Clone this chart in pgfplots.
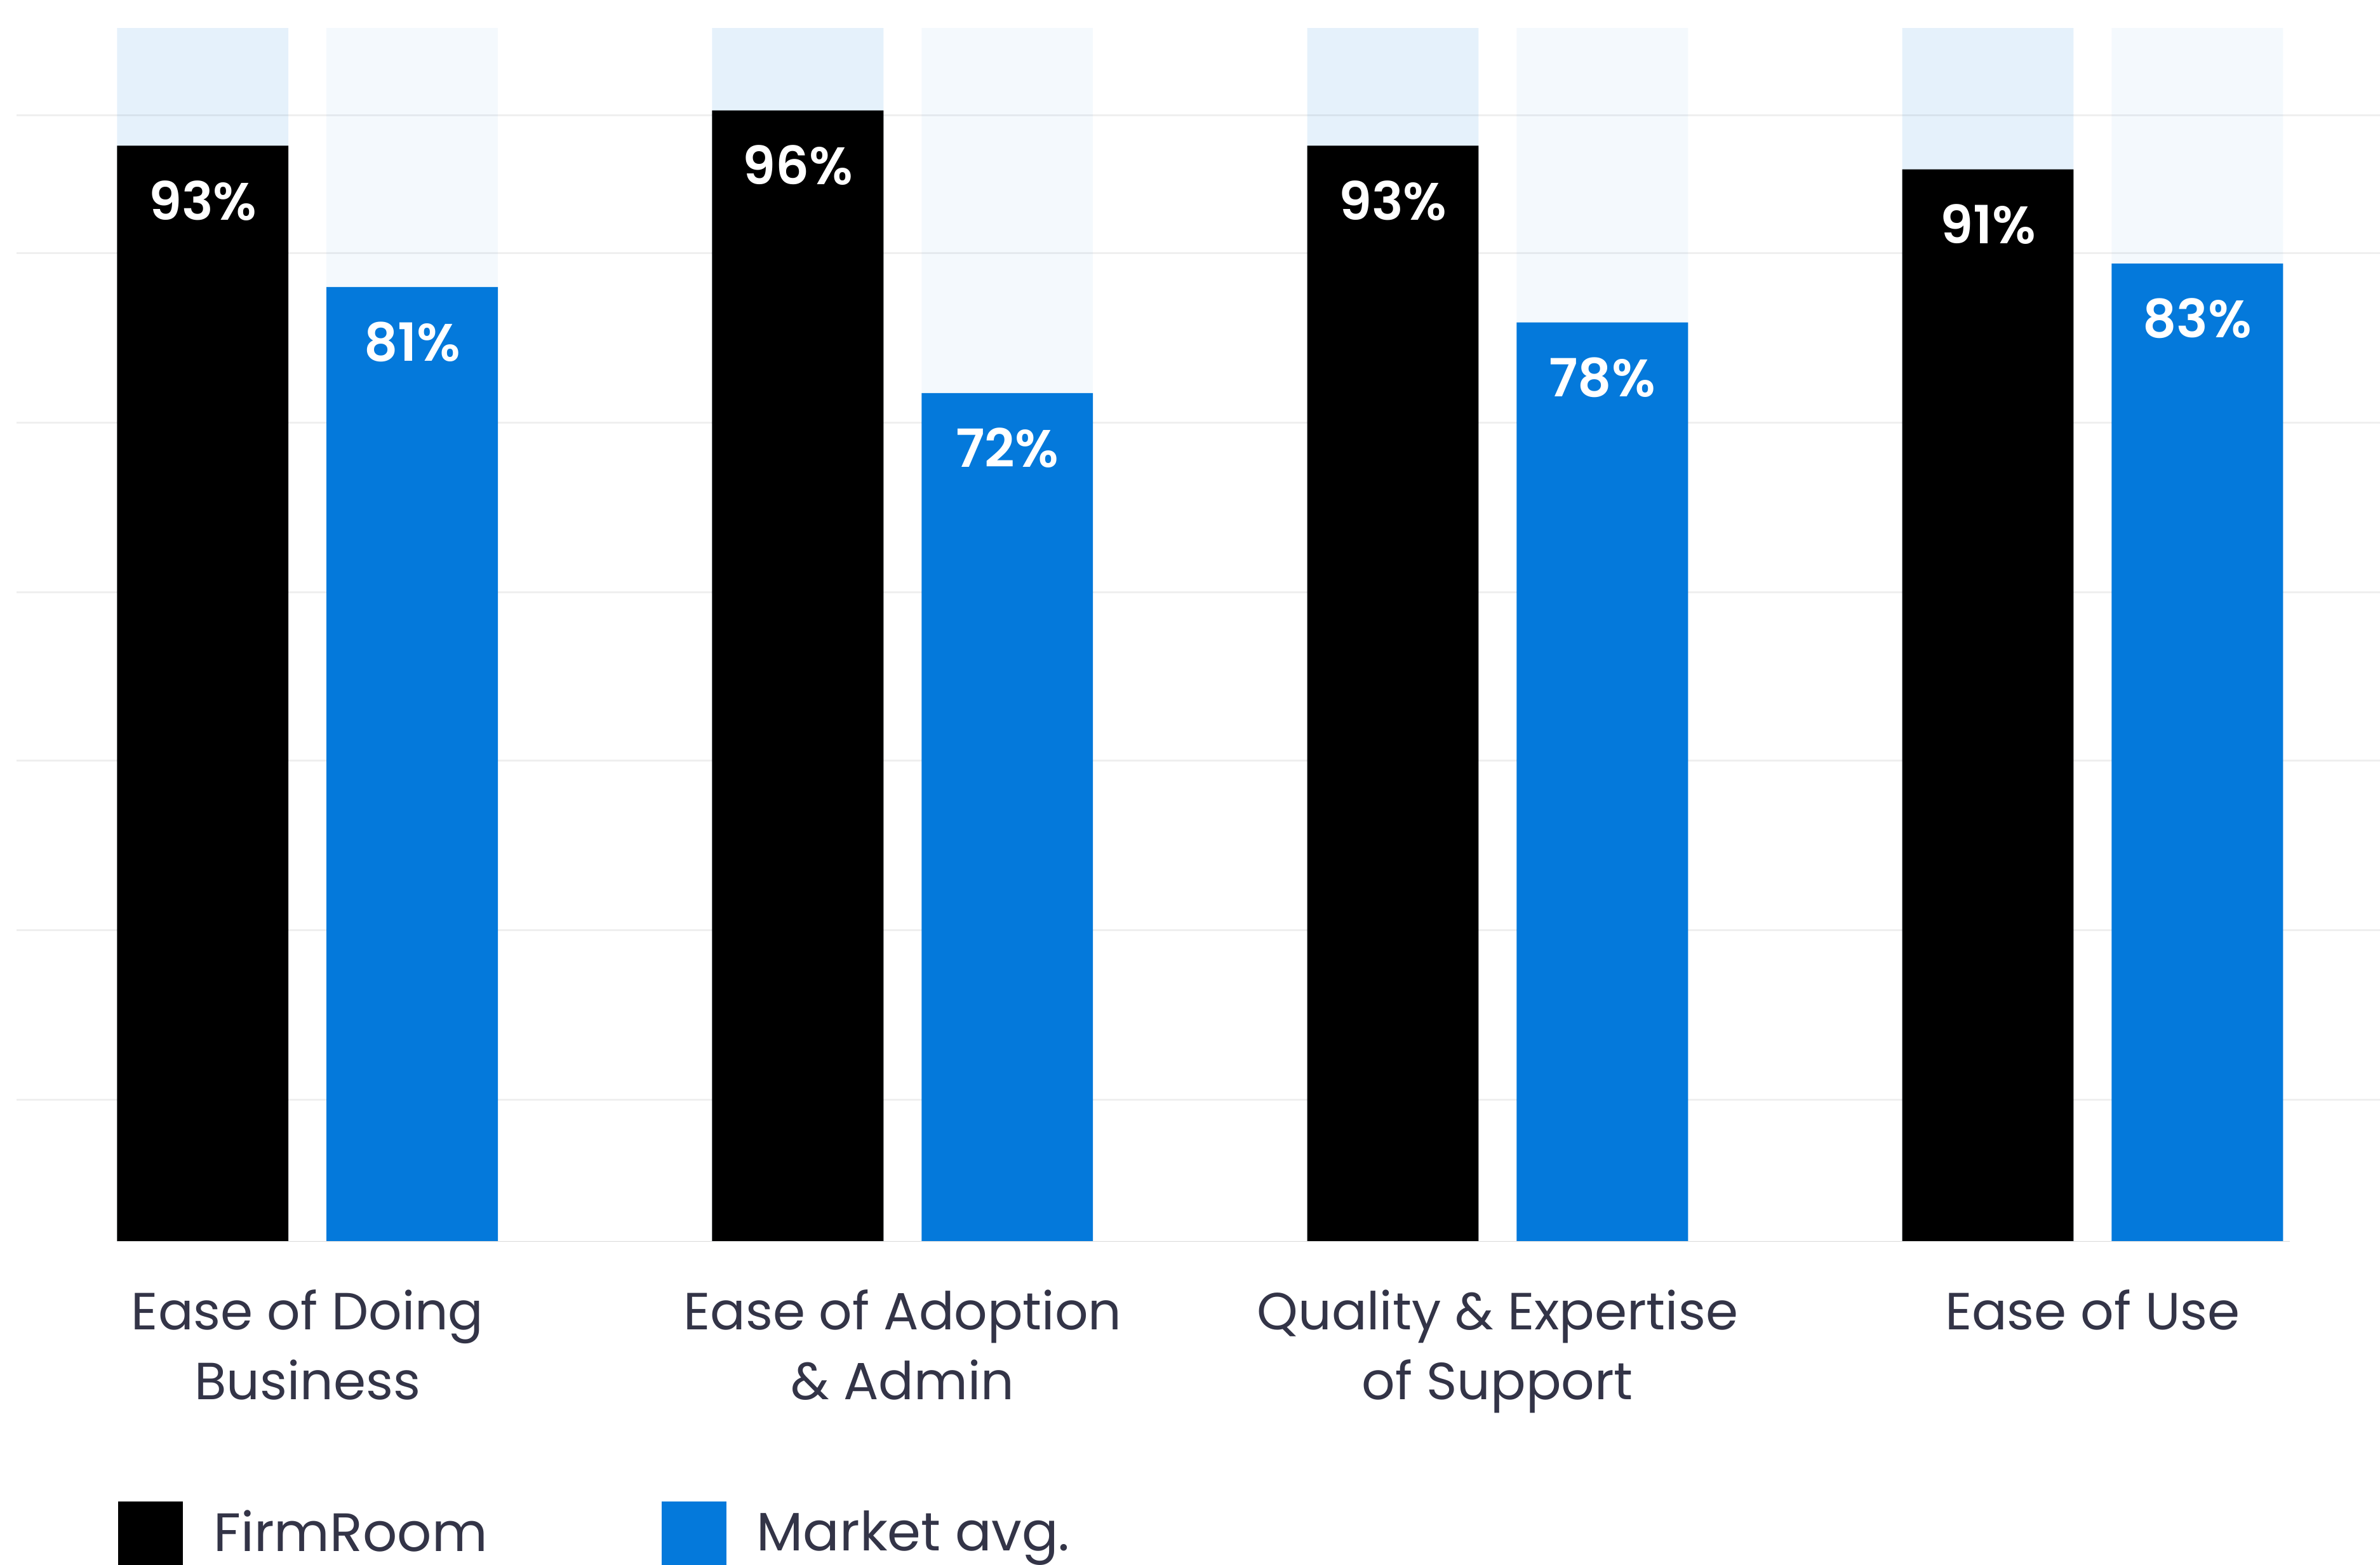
\documentclass[border=0pt]{standalone}
\usepackage{fontspec}
\setmainfont{Poppins}
\newfontfamily\valfont{Poppins SemiBold}
\usepackage{pgfplots}
\pgfplotsset{compat=1.18}
\definecolor{barblue}{HTML}{0479DB}
\definecolor{textcol}{HTML}{333447}
\definecolor{gridcol}{HTML}{EFEFEF}
\definecolor{basecol}{HTML}{D9D9D9}

% bar centres: group at 0,1,2,3, pair offset +-0.176
\pgfplotsset{
    valbar/.style={ybar, bar width=0.288, bar shift=0pt, draw=none,
        legend image code/.code={\path[fill] (0cm,-0.255cm) rectangle (0.51cm,0.255cm);},
        nodes near coords={\pgfmathprintnumber{\pgfplotspointmeta}\%},
        every node near coord/.append style={anchor=base, yshift=-0.585cm, text=white,
            font=\fontsize{11.8}{15}\valfont}},
    bgbar/.style={ybar, bar width=0.288, bar shift=0pt, fill=barblue, draw=none, forget plot},
}

\begin{document}
\begin{tikzpicture}
\begin{axis}[
    name=ax,
    scale only axis,
    width=18.61cm, height=9.55cm,
    xmin=-0.489, xmax=3.483,
    ymin=0, ymax=103,
    axis line style={draw=none},
    major tick length=0pt,
    /pgf/number format/assume math mode=true,
    ytick={12.0,26.4,40.8,55.1,69.5,83.9,95.6},
    yticklabels={},
    ymajorgrids,
    grid style={gridcol, line width=0.015cm},
    xtick={0,1,2,3},
    xticklabels={{Ease of Doing\\Business},{Ease of Adoption\\\& Admin},{Quality \& Expertise\\of Support},{Ease of Use}},
    xticklabel style={align=center, anchor=north, inner sep=0pt, yshift=-0.375cm,
        text=textcol, font=\fontsize{11.7}{15.7}\selectfont},
    legend style={at={(rel axis cs:0.0427,-0.2141)}, anchor=north west,
        draw=none, fill=none, inner sep=0pt, legend columns=2,
        font=\fontsize{12.1}{15.7}\selectfont, text=textcol,
        nodes={inner sep=0pt},
        /tikz/every odd column/.append style={column sep=0.24cm},
        /tikz/every even column/.append style={column sep=1.37cm}},
    legend cell align=left,
]
% background columns (full scale)
\addplot[bgbar, fill opacity=0.1]
    coordinates {(-0.176,103) (0.824,103) (1.824,103) (2.824,103)};
\addplot[bgbar, fill opacity=0.045]
    coordinates {(0.176,103) (1.176,103) (2.176,103) (3.176,103)};

% FirmRoom
\addplot[valbar, fill=black]
    coordinates {(-0.176,93) (0.824,96) (1.824,93) (2.824,91)};
\addlegendentry{FirmRoom}

% Market average
\addplot[valbar, fill=barblue]
    coordinates {(0.176,81) (1.176,72) (2.176,78) (3.176,83)};
\addlegendentry{Market avg.}

\draw[basecol, line width=0.02cm] ([yshift=-0.01cm]axis cs:-0.320,0) -- ([yshift=-0.01cm]axis cs:3.331,0);
\end{axis}
\pgfresetboundingbox
\useasboundingbox ([shift={(-0.13cm,-2.545cm)}]ax.south west) rectangle ([shift={(0cm,0.22cm)}]ax.north east);
\end{tikzpicture}
\end{document}
